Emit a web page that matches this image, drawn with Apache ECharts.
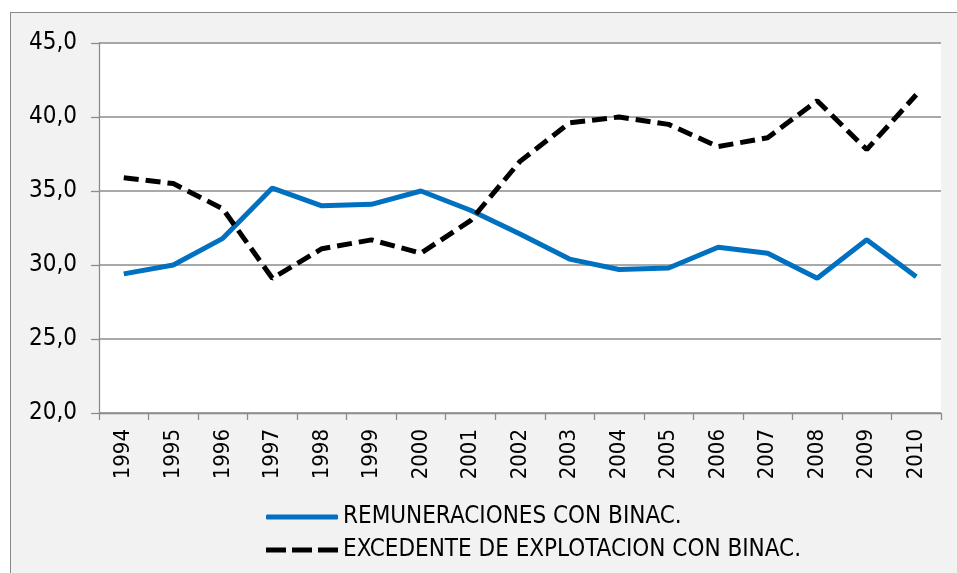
<!DOCTYPE html>
<html>
<head>
<meta charset="utf-8">
<script src="https://cdn.jsdelivr.net/npm/echarts@6/dist/echarts.min.js"></script>
<style>
    html, body { margin: 0; padding: 0; background: #fff; }
    .frame {
        position: absolute;
        left: 10px;
        top: 12px;
        width: 946px;
        height: 560px;
        background: #f2f2f2;
        border-left: 1px solid #888;
        border-top: 1px solid #888;
    }
    #chart { width: 946px; height: 560px; }
</style>
</head>
<body>
<div class="frame"><div id="chart"></div></div>
<script>
// años
const years = ['1994', '1995', '1996', '1997', '1998', '1999', '2000', '2001', '2002',
    '2003', '2004', '2005', '2006', '2007', '2008', '2009', '2010'];
// % del total
const remuneraciones = [29.4, 30.0, 31.8, 35.2, 34.0, 34.1, 35.0, 33.7, 32.1,
    30.4, 29.7, 29.8, 31.2, 30.8, 29.1, 31.7, 29.2];
const excedente = [35.9, 35.5, 33.8, 29.1, 31.1, 31.7, 30.8, 33.0, 37.0,
    39.6, 40.0, 39.5, 38.0, 38.6, 41.1, 37.8, 41.5];
const yTicks = [20, 25, 30, 35, 40, 45];

const font = "'DejaVu Sans Condensed', 'DejaVu Sans', sans-serif";
const gray = '#8c8c8c';
const dashIcon = 'path://M0,0h20v5h-20z M26,0h20v5h-20z M52,0h20v5h-20z';

let chart = echarts.init(document.getElementById('chart'));
chart.setOption({
    animation: false,
    textStyle: { fontFamily: font },
    grid: {
        left: 88, top: 30, right: 16, bottom: 160,
        show: true, backgroundColor: '#fff', borderWidth: 0
    },
    legend: {
        orient: 'vertical',
        left: 250,
        top: 487,
        itemWidth: 72,
        itemHeight: 5,
        itemGap: 9,
        textStyle: { fontFamily: font, fontSize: 24, color: '#000' },
        data: [
            { name: 'REMUNERACIONES CON BINAC.', icon: 'roundRect' },
            { name: 'EXCEDENTE DE EXPLOTACION CON BINAC.', icon: dashIcon }
        ]
    },
    xAxis: {
        type: 'category',
        data: years,
        boundaryGap: true,
        axisLine: { lineStyle: { color: gray, width: 1.3 } },
        axisTick: { show: true, length: 7, lineStyle: { color: gray, width: 1.3 } },
        axisLabel: { rotate: 90, margin: 16, fontFamily: font, fontSize: 22, color: '#000' }
    },
    yAxis: {
        type: 'value',
        min: yTicks[0],
        max: yTicks[yTicks.length - 1],
        interval: 5,
        axisLine: { show: true, lineStyle: { color: gray, width: 1.3 } },
        axisTick: { show: true, length: 8, lineStyle: { color: gray, width: 1.3 } },
        splitLine: { lineStyle: { color: gray, width: 1.5 } },
        axisLabel: {
            margin: 22, fontFamily: font, fontSize: 24, color: '#000',
            formatter: v => v.toFixed(1).replace('.', ',')
        }
    },
    series: [
        {
            name: 'REMUNERACIONES CON BINAC.',
            type: 'line',
            data: remuneraciones,
            symbol: 'none',
            itemStyle: { color: '#0070c0' },
            lineStyle: { color: '#0070c0', width: 5 }
        },
        {
            name: 'EXCEDENTE DE EXPLOTACION CON BINAC.',
            type: 'line',
            data: excedente,
            symbol: 'none',
            itemStyle: { color: '#000' },
            lineStyle: { color: '#000', width: 5, type: [15, 7] }
        }
    ]
});
</script>
</body>
</html>
